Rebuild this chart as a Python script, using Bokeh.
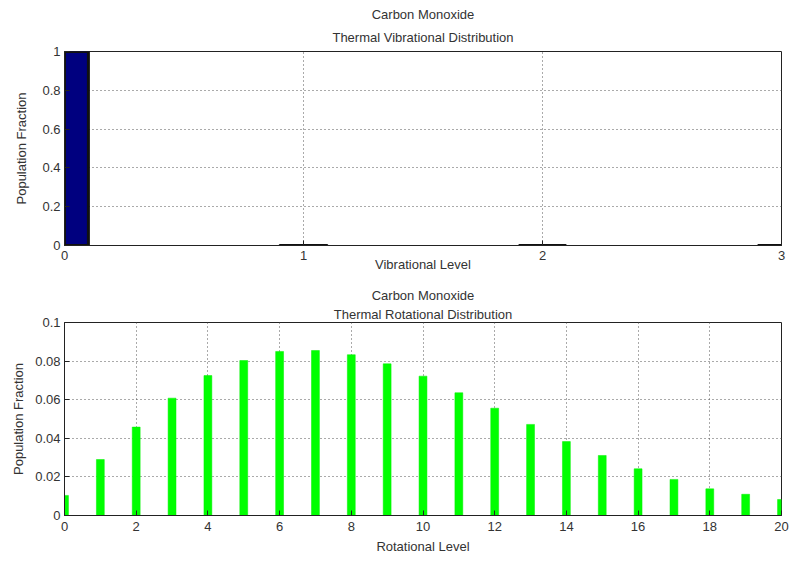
from bokeh.plotting import figure
from bokeh.layouts import column
from bokeh.models import Range1d, FixedTicker, Title, CustomJSTickFormatter
from bokeh.embed import file_html
from bokeh.resources import INLINE

# ---- data ----
vib_levels = [0, 1, 2, 3]
vib_fraction = [0.99998, 2e-5, 1e-9, 1e-14]
rot_levels = list(range(21))
rot_fraction = [0.0104, 0.0290, 0.0458, 0.0608, 0.0725, 0.0803, 0.0850, 0.0855,
                0.0833, 0.0786, 0.0722, 0.0636, 0.0556, 0.0472, 0.0383, 0.0311,
                0.0242, 0.0187, 0.0138, 0.0110, 0.0083]
vib_xticks = [0, 1, 2, 3]
vib_yticks = [0, 0.2, 0.4, 0.6, 0.8, 1.0]
rot_xticks = [0, 2, 4, 6, 8, 10, 12, 14, 16, 18, 20]
rot_yticks = [0, 0.02, 0.04, 0.06, 0.08, 0.1]

FONT = "Liberation Sans"
TXT = "#333333"
FS = "13px"
fmt_code = "return String(Number(tick.toFixed(4)));"


def style(p, xticks, yticks, xlabel, ylabel, t1, t2, xlab_standoff, ylab_standoff,
          xlab_label_standoff, sub_standoff, top_standoff):
    p.xaxis.ticker = FixedTicker(ticks=xticks)
    p.yaxis.ticker = FixedTicker(ticks=yticks)
    p.xgrid.ticker = FixedTicker(ticks=xticks)
    p.ygrid.ticker = FixedTicker(ticks=yticks)
    for ax in (p.xaxis[0], p.yaxis[0]):
        ax.formatter = CustomJSTickFormatter(code=fmt_code)
        ax.major_tick_in = 5
        ax.major_tick_out = 0
        ax.minor_tick_line_color = None
        ax.axis_line_color = "#222222"
        ax.major_tick_line_color = "#222222"
        ax.major_label_text_font = FONT
        ax.major_label_text_font_size = FS
        ax.major_label_text_color = TXT
        ax.axis_label_text_font = FONT
        ax.axis_label_text_font_size = FS
        ax.axis_label_text_font_style = "normal"
        ax.axis_label_text_color = TXT
    p.xaxis.axis_label = xlabel
    p.yaxis.axis_label = ylabel
    p.xaxis.major_label_standoff = xlab_label_standoff
    p.xaxis.axis_label_standoff = xlab_standoff
    p.yaxis.major_label_standoff = 4
    p.yaxis.axis_label_standoff = ylab_standoff
    for g in (p.xgrid[0], p.ygrid[0]):
        g.grid_line_color = "#555555"
        g.grid_line_dash = "1 3"
        g.grid_line_width = 1
    p.add_layout(Title(text=t2, align="center", text_font=FONT, text_font_size=FS,
                       text_font_style="normal", text_color=TXT, standoff=sub_standoff), "above")
    p.add_layout(Title(text=t1, align="center", text_font=FONT, text_font_size=FS,
                       text_font_style="normal", text_color=TXT, standoff=top_standoff), "above")
    p.outline_line_color = "#222222"
    p.outline_line_alpha = 1
    p.background_fill_color = "white"
    p.border_fill_color = "white"


p1 = figure(width=789, height=280, x_range=Range1d(0, 3), y_range=Range1d(0, 1),
            output_backend="svg", toolbar_location=None, title=None,
            min_border_left=64, min_border_right=8, min_border_top=51, min_border_bottom=35)
p1.vbar(x=vib_levels, top=vib_fraction, width=0.2, bottom=0,
        fill_color="#00007f", line_color="#111111", line_width=3)
style(p1, vib_xticks, vib_yticks, "Vibrational Level", "Population Fraction",
      "Carbon Monoxide", "Thermal Vibrational Distribution", -6, 10, 5, 13, 0)

p2 = figure(width=789, height=281, x_range=Range1d(0, 20), y_range=Range1d(0, 0.1),
            output_backend="svg", toolbar_location=None, title=None,
            min_border_left=64, min_border_right=8, min_border_top=42, min_border_bottom=46)
p2.vbar(x=rot_levels, top=rot_fraction, width=0.22, bottom=0,
        fill_color="#00ff00", line_color="#00ee00", line_width=0.5)
style(p2, rot_xticks, rot_yticks, "Rotational Level", "Population Fraction",
      "Carbon Monoxide", "Thermal Rotational Distribution", 5, 6, 6, 2, 2)

layout = column(p1, p2, spacing=0)
open("out.html", "w").write(file_html(layout, INLINE))
